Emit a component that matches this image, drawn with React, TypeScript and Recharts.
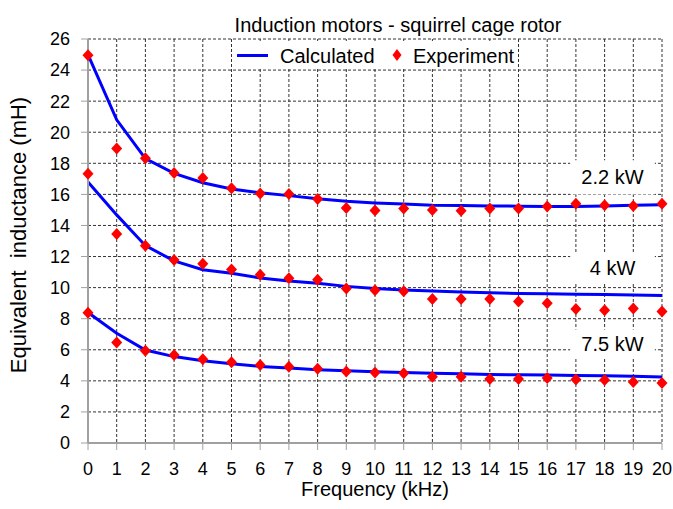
import React from "react";
import {
  ComposedChart,
  Line,
  Scatter,
  XAxis,
  YAxis,
  CartesianGrid,
  Legend,
  ReferenceArea,
} from "recharts";

const freqs = [0, 1, 2, 3, 4, 5, 6, 7, 8, 9, 10, 11, 12, 13, 14, 15, 16, 17, 18, 19, 20];
const xTicks = [0, 1, 2, 3, 4, 5, 6, 7, 8, 9, 10, 11, 12, 13, 14, 15, 16, 17, 18, 19, 20];
const yTicks = [0, 2, 4, 6, 8, 10, 12, 14, 16, 18, 20, 22, 24, 26];

// 2.2 kW
const calc22 = [25.0, 20.8, 18.3, 17.35, 16.75, 16.35, 16.1, 15.92, 15.72, 15.56, 15.45, 15.38, 15.3, 15.28, 15.26, 15.24, 15.22, 15.22, 15.26, 15.3, 15.33];
const exp22 = [24.95, 18.95, 18.33, 17.38, 17.05, 16.4, 16.06, 16.02, 15.7, 15.12, 14.96, 15.09, 15.0, 14.94, 15.09, 15.09, 15.22, 15.39, 15.3, 15.25, 15.39];
// 4 kW
const calc4 = [16.8, 14.68, 12.7, 11.72, 11.15, 10.92, 10.62, 10.43, 10.28, 10.08, 9.95, 9.85, 9.78, 9.72, 9.67, 9.62, 9.6, 9.58, 9.55, 9.52, 9.49];
const exp4 = [17.32, 13.45, 12.7, 11.77, 11.53, 11.16, 10.82, 10.6, 10.5, 9.95, 9.83, 9.77, 9.27, 9.27, 9.27, 9.1, 9.0, 8.62, 8.55, 8.65, 8.47];
// 7.5 kW
const calc75 = [8.4, 7.06, 5.98, 5.56, 5.3, 5.1, 4.93, 4.82, 4.72, 4.65, 4.58, 4.53, 4.49, 4.45, 4.41, 4.39, 4.37, 4.35, 4.33, 4.3, 4.25];
const exp75 = [8.39, 6.46, 5.94, 5.67, 5.39, 5.2, 5.02, 4.91, 4.78, 4.6, 4.54, 4.49, 4.27, 4.27, 4.12, 4.12, 4.18, 4.08, 4.06, 3.93, 3.86];

const toPoints = (ys: number[]) => freqs.map((f, i) => ({ f, v: ys[i] }));

const FONT = '"Liberation Sans", Arial, sans-serif';
const BLUE = "#0000ff";
const RED = "#ff0000";
const AXIS = "#a0a0a0";

const Diamond = (props: any) => {
  const { cx, cy } = props;
  if (cx == null || cy == null) return null;
  return (
    <polygon
      points={`${cx},${cy - 6} ${cx + 5.5},${cy} ${cx},${cy + 6} ${cx - 5.5},${cy}`}
      fill={RED}
    />
  );
};

const LegendBox = () => (
  <div
    style={{
      position: "relative",
      width: 283,
      height: 27,
      background: "#fff",
      fontFamily: FONT,
      fontSize: 20,
      lineHeight: "20px",
      color: "#000",
      whiteSpace: "nowrap",
    }}
  >
    <div style={{ position: "absolute", left: 4, top: 12.5, width: 31, height: 3, background: BLUE }} />
    <div style={{ position: "absolute", left: 47, top: 4.5 }}>Calculated</div>
    <svg style={{ position: "absolute", left: 159, top: 8 }} width={10} height={12}>
      <polygon points="5,0 9.5,6 5,12 0.5,6" fill={RED} />
    </svg>
    <div style={{ position: "absolute", left: 180, top: 4.5 }}>Experiment</div>
  </div>
);

const YLabel = () => (
  <text
    x={26}
    y={235}
    transform="rotate(-90 26 235)"
    textAnchor="middle"
    fontSize={22}
    fill="#000"
    fontFamily={FONT}
  >
    {"Equivalent\u00a0 inductance (mH)"}
  </text>
);

const boxLabel = (value: string) => ({
  value,
  position: "center" as const,
  fontSize: 20,
  fill: "#000",
  fontFamily: FONT,
});

export default function App() {
  return (
    <div
      style={{
        position: "absolute",
        left: 0,
        top: 0,
        width: 673,
        height: 509,
        background: "#fff",
        fontFamily: FONT,
      }}
    >
      <div
        style={{
          position: "absolute",
          left: 198,
          top: 15,
          width: 400,
          textAlign: "center",
          fontSize: 20,
          lineHeight: "20px",
          color: "#000",
          whiteSpace: "nowrap",
        }}
      >
        Induction motors - squirrel cage rotor
      </div>
      <ComposedChart
        width={673}
        height={509}
        margin={{ top: 39, right: 11, bottom: 0, left: 0 }}
        style={{ fontFamily: FONT }}
      >
        <CartesianGrid stroke="#333" strokeDasharray="3 2" strokeWidth={1} />
        <XAxis
          dataKey="f"
          type="number"
          domain={[0, 20]}
          ticks={xTicks}
          interval={0}
          height={66}
          tickSize={7}
          tickMargin={12}
          stroke={AXIS}
          axisLine={{ stroke: AXIS, strokeWidth: 2 }}
          tickLine={{ stroke: AXIS }}
          tick={{ fontSize: 18, fill: "#000" }}
          label={{ value: "Frequency (kHz)", position: "insideBottom", offset: 13, fontSize: 20, fill: "#000" }}
        />
        <YAxis
          dataKey="v"
          type="number"
          domain={[0, 26]}
          ticks={yTicks}
          interval={0}
          width={88}
          tickSize={7}
          tickMargin={11}
          stroke={AXIS}
          axisLine={{ stroke: AXIS, strokeWidth: 2 }}
          tickLine={{ stroke: AXIS }}
          tick={{ fontSize: 18, fill: "#000" }}
          label={<YLabel />}
        />
        <ReferenceArea x1={16.8} x2={19.75} y1={16.0} y2={18.2} fill="#fff" fillOpacity={1} stroke="none" label={boxLabel("2.2 kW")} />
        <ReferenceArea x1={16.8} x2={19.75} y1={10.3} y2={12.3} fill="#fff" fillOpacity={1} stroke="none" label={boxLabel("4 kW")} />
        <ReferenceArea x1={16.8} x2={19.75} y1={5.5} y2={7.3} fill="#fff" fillOpacity={1} stroke="none" label={boxLabel("7.5 kW")} />
        <Line data={toPoints(calc22)} dataKey="v" name="Calculated" stroke={BLUE} strokeWidth={3} dot={false} activeDot={false} isAnimationActive={false} />
        <Line data={toPoints(calc4)} dataKey="v" name="Calculated 4" stroke={BLUE} strokeWidth={3} dot={false} activeDot={false} isAnimationActive={false} />
        <Line data={toPoints(calc75)} dataKey="v" name="Calculated 7.5" stroke={BLUE} strokeWidth={3} dot={false} activeDot={false} isAnimationActive={false} />
        <Scatter data={toPoints(exp22)} dataKey="v" name="Experiment" fill={RED} shape={Diamond} isAnimationActive={false} />
        <Scatter data={toPoints(exp4)} dataKey="v" name="Experiment 4" fill={RED} shape={Diamond} isAnimationActive={false} />
        <Scatter data={toPoints(exp75)} dataKey="v" name="Experiment 7.5" fill={RED} shape={Diamond} isAnimationActive={false} />
        <Legend
          layout="horizontal"
          verticalAlign="middle"
          align="center"
          content={() => <LegendBox />}
          wrapperStyle={{ position: "absolute", left: 233, top: 41, width: 283, height: 27 }}
        />
      </ComposedChart>
    </div>
  );
}
